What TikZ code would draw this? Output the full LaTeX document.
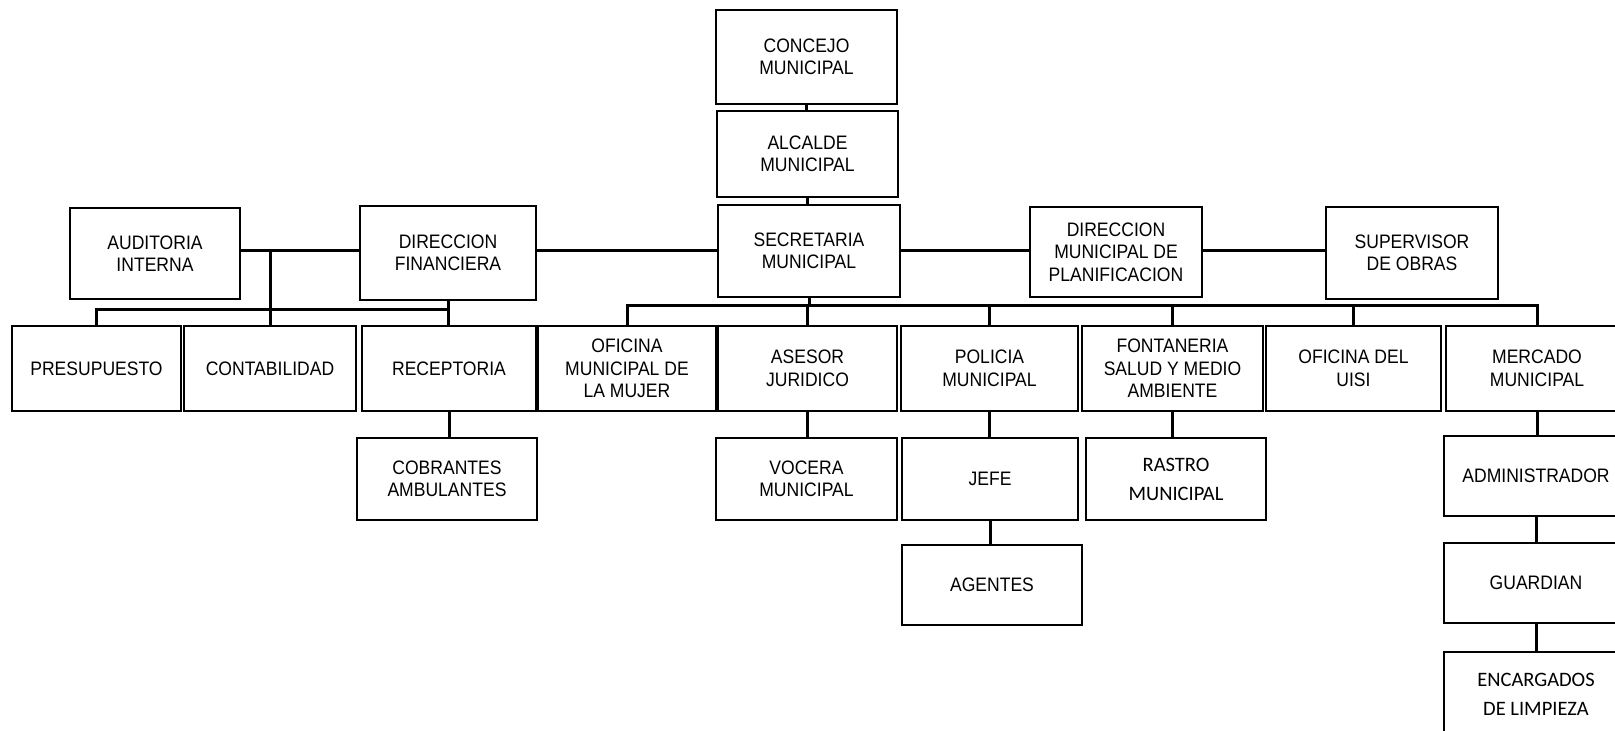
\documentclass[tikz,border=0pt]{standalone}
\usepackage{fontspec}
\setmainfont{Liberation Sans}[FakeStretch=0.9]
\newfontfamily\calib{Carlito}
\tikzset{
  box/.style={draw, line width=1.3pt, inner sep=0pt, align=center,
    font=\fontsize{19.5}{22.5}\selectfont},
  conn/.style={line width=3pt},
}
\newcommand{\bx}[7][]{%
  \node[box,#1, minimum width={#5pt-#3pt}, minimum height={#6pt-#4pt}]
    (#2) at ({(#3+#5)/2},{(#4+#6)/2}) {#7};}
\begin{document}
\begin{tikzpicture}[x=1pt,y=-1pt]
\fill[white] (0,0) rectangle (1615,731);
\useasboundingbox (0,0) rectangle (1615,731);
% top
\bx{con}{716}{10}{897}{104}{CONCEJO\\MUNICIPAL}
\bx{alc}{717}{111}{898}{197}{ALCALDE\\MUNICIPAL}
\bx{sec}{718}{205}{900}{297}{SECRETARIA\\MUNICIPAL}
\bx{aud}{70}{208}{240}{299}{AUDITORIA\\INTERNA}
\bx{df}{360}{206}{536}{300}{DIRECCION\\FINANCIERA}
\bx{dmp}{1030}{207}{1202}{297}{DIRECCION\\MUNICIPAL DE\\PLANIFICACION}
\bx{sup}{1326}{207}{1498}{299}{SUPERVISOR\\DE OBRAS}
% row 2
\bx{pre}{12}{326}{181}{411}{PRESUPUESTO}
\bx{cont}{184}{326}{356}{411}{CONTABILIDAD}
\bx{rec}{362}{326}{536}{411}{RECEPTORIA}
\bx{muj}{538}{326}{716}{411}{OFICINA\\MUNICIPAL DE\\LA MUJER}
\bx{ase}{718}{326}{897}{411}{ASESOR\\JURIDICO}
\bx{pol}{901}{326}{1078}{411}{POLICIA\\MUNICIPAL}
\bx{fon}{1082}{326}{1263}{411}{FONTANERIA\\SALUD Y MEDIO\\AMBIENTE}
\bx{uisi}{1266}{326}{1441}{411}{OFICINA DEL\\UISI}
\bx{mer}{1446}{326}{1628}{411}{MERCADO\\MUNICIPAL}
% row 3
\bx{cob}{357}{438}{537}{520}{COBRANTES\\AMBULANTES}
\bx{voc}{716}{438}{897}{520}{VOCERA\\MUNICIPAL}
\bx{jefe}{902}{438}{1078}{520}{JEFE}
\bx[font=\calib\fontsize{20.5}{29}\selectfont]{ras}{1086}{438}{1266}{520}{RASTRO\\MUNICIPAL}
\bx{adm}{1444}{436}{1628}{516}{ADMINISTRADOR}
% row 4, 5
\bx{age}{902}{545}{1082}{625}{AGENTES}
\bx{gua}{1444}{543}{1628}{623}{GUARDIAN}
\bx[font=\calib\fontsize{20.5}{29}\selectfont]{enc}{1444}{652}{1628}{736}{ENCARGADOS\\DE LIMPIEZA}
% connectors
\coordinate (hl) at (0,250);
\coordinate (lb) at (0,309);
\coordinate (rb) at (0,305);
\draw[conn] (con.south) -- (con.south|-alc.north);
\draw[conn] (alc.south) -- (alc.south|-sec.north);
\draw[conn] (aud.east|-hl) -- (df.west|-hl);
\draw[conn] (df.east|-hl) -- (sec.west|-hl);
\draw[conn] (sec.east|-hl) -- (dmp.west|-hl);
\draw[conn] (dmp.east|-hl) -- (sup.west|-hl);
\draw[conn] (cont.north) -- (cont.north|-hl);
\draw[conn] (pre.north) |- (df.south|-lb);
\draw[conn] (df.south) -- (df.south|-rec.north);
\draw[conn] (rec.south) -- (rec.south|-cob.north);
\draw[conn] (sec.south) -- (sec.south|-rb);
\draw[conn] (muj.north) |- (mer.north|-rb) -- (mer.north);
\foreach \n in {ase,pol,fon,uisi} \draw[conn] (\n.north) -- (\n.north|-rb);
\draw[conn] (ase.south) -- (ase.south|-voc.north);
\draw[conn] (pol.south) -- (pol.south|-jefe.north);
\draw[conn] (jefe.south) -- (jefe.south|-age.north);
\draw[conn] (fon.south) -- (fon.south|-ras.north);
\draw[conn] (mer.south) -- (mer.south|-adm.north);
\draw[conn] (adm.south) -- (adm.south|-gua.north);
\draw[conn] (gua.south) -- (gua.south|-enc.north);
\end{tikzpicture}
\end{document}
